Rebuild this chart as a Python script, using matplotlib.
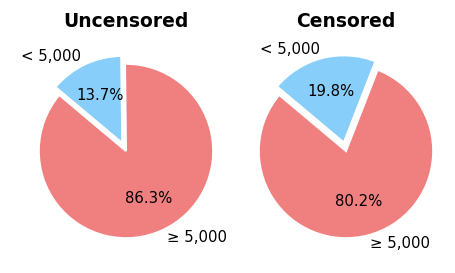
import matplotlib.pyplot as plt

# === Données ===
labels = ["< 5,000", "≥ 5,000"]
uncensored = [13.7, 86.3]
censored = [19.8, 80.2]
titles = ["Uncensored", "Censored"]
colors = ["lightskyblue", "lightcoral"]
explode = [0.1, 0]

fig = plt.figure(figsize=(4.55, 2.73), dpi=100)

# positions des axes (centre des camemberts)
centers_px = [(126, 151), (346, 151)]
size_px = 218

for (cx, cy), vals, title in zip(centers_px, [uncensored, censored], titles):
    ax = fig.add_axes([(cx - size_px / 2) / 455, (273 - cy - size_px / 2) / 273,
                       size_px / 455, size_px / 273])
    ax.pie(vals, labels=labels, colors=colors, explode=explode,
           autopct="%1.1f%%", startangle=140, counterclock=False,
           wedgeprops={"edgecolor": "white", "linewidth": 1.5},
           textprops={"fontsize": 10.7})
    ax.set_title(title, fontsize=13.5, fontweight="bold", pad=11)

plt.savefig("out.png", dpi=100)
